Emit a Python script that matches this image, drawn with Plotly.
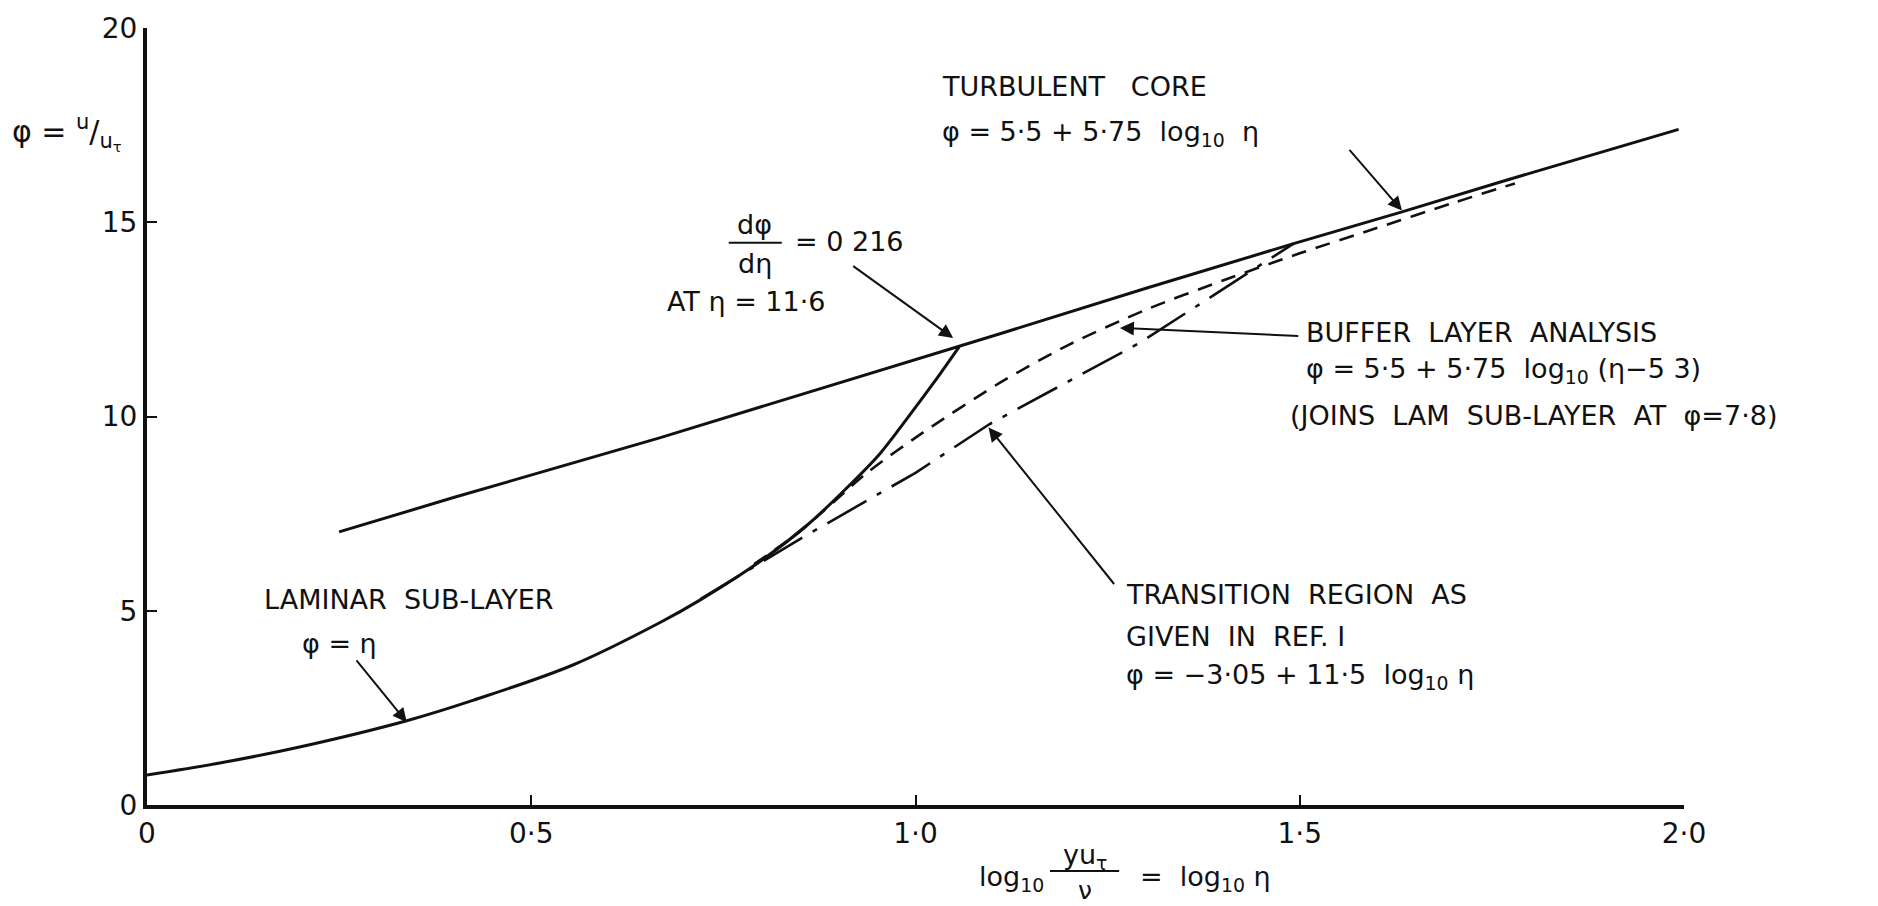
import plotly.graph_objects as go

# ---- data ----
turb_x = [0.25, 0.40, 0.667, 1.057, 1.11, 1.30, 1.492, 1.632, 1.76, 1.993]
turb_y = [7.03, 7.92, 9.45, 11.80, 12.13, 13.30, 14.45, 15.26, 16.03, 17.39]

lam_x = [0.0, 0.10, 0.20, 0.338, 0.425, 0.555, 0.667, 0.72, 0.80, 0.86, 0.91, 0.954, 0.988, 1.023, 1.057]
lam_y = [0.77, 1.10, 1.50, 2.17, 2.70, 3.61, 4.69, 5.28, 6.30, 7.22, 8.15, 9.05, 9.92, 10.85, 11.80]

buf_x = [0.79, 0.85, 0.937, 1.01, 1.11, 1.20, 1.30, 1.40, 1.50, 1.60, 1.70, 1.78]
buf_y = [6.20, 7.05, 8.55, 9.59, 10.87, 11.85, 12.75, 13.50, 14.20, 14.85, 15.50, 16.00]

trans_x = [0.72, 0.849, 1.0, 1.096, 1.292, 1.492]
trans_y = [5.30, 6.84, 8.55, 9.80, 11.90, 14.45]

x_ticks = [0, 0.5, 1.0, 1.5, 2.0]
x_ticklabels = ["0", "0·5", "1·0", "1·5", "2·0"]
y_ticks = [0, 5, 10, 15, 20]
y_ticklabels = ["0", "5", "10", "15", "20"]

FONT = "DejaVu Sans"
INK = "#111111"

fig = go.Figure()
fig.add_trace(go.Scatter(x=turb_x, y=turb_y, mode="lines",
                         line=dict(color=INK, width=3), hoverinfo="skip"))
fig.add_trace(go.Scatter(x=lam_x, y=lam_y, mode="lines", line_shape="spline",
                         line=dict(color=INK, width=3, smoothing=1.0), hoverinfo="skip"))
fig.add_trace(go.Scatter(x=buf_x, y=buf_y, mode="lines", line_shape="spline",
                         line=dict(color=INK, width=2.6, dash="15px,10px", smoothing=0.8),
                         hoverinfo="skip"))
fig.add_trace(go.Scatter(x=trans_x, y=trans_y, mode="lines",
                         line=dict(color=INK, width=2.6, dash="45px,12px,5px,12px"), hoverinfo="skip"))

ann = []
SZ = 27


def txt(x, y, s, size=SZ, xanchor="left", yref="y"):
    ann.append(dict(x=x, y=y, xref="x", yref=yref, text=s, showarrow=False,
                    xanchor=xanchor, yanchor="middle",
                    font=dict(family=FONT, size=size, color=INK)))


def arrow(tx, ty, hx, hy):
    ann.append(dict(x=hx, y=hy, ax=tx, ay=ty, xref="x", yref="y", axref="x", ayref="y",
                    text="", showarrow=True, arrowhead=2, arrowsize=1.4, arrowwidth=2,
                    arrowcolor=INK))


# Turbulent core
txt(1.032, 18.50, "TURBULENT   CORE")
txt(1.032, 17.29, "φ = 5·5 + 5·75  log<sub>10</sub>  η")
arrow(1.563, 16.9, 1.633, 15.3)

# dφ/dη
txt(0.791, 14.95, "dφ", xanchor="center")
txt(0.791, 13.95, "dη", xanchor="center")
txt(0.840, 14.50, "= 0 216")
txt(0.674, 12.95, "AT η = 11·6")
arrow(0.917, 13.90, 1.049, 12.02)

# Buffer layer
txt(1.506, 12.15, "BUFFER  LAYER  ANALYSIS")
txt(1.506, 11.18, "φ = 5·5 + 5·75  log<sub>10</sub> (η−5 3)")
txt(1.485, 10.03, "(JOINS  LAM  SUB-LAYER  AT  φ=7·8)")
arrow(1.50, 12.07, 1.266, 12.28)

# Transition region
txt(1.271, 5.42, "TRANSITION  REGION  AS")
txt(1.271, 4.35, "GIVEN  IN  REF. I")
txt(1.271, 3.32, "φ = −3·05 + 11·5  log<sub>10</sub> η")
arrow(1.26, 5.65, 1.095, 9.72)

# Laminar sub-layer
txt(0.150, 5.30, "LAMINAR  SUB-LAYER")
txt(0.199, 4.15, "φ = η")
arrow(0.271, 3.76, 0.338, 2.13)

# y-axis label
ann.append(dict(x=-0.052, y=17.3, xref="paper", yref="y", showarrow=False,
                text="φ = <sup>u</sup>/<sub>u<sub>τ</sub></sub>", xanchor="center", yanchor="middle",
                font=dict(family=FONT, size=30, color=INK)))

# x-axis label (paper y below the plot)
txt(1.08, -0.095, "log<sub>10</sub>", yref="paper")
txt(1.22, -0.066, "yu<sub>τ</sub>", xanchor="center", yref="paper")
txt(1.22, -0.110, "ν", size=25, xanchor="center", yref="paper")
txt(1.29, -0.095, "=  log<sub>10</sub> η", yref="paper")

shapes = [
    dict(type="line", xref="x", yref="y", x0=0.757, x1=0.826, y0=14.47, y1=14.47,
         line=dict(color=INK, width=2)),
    dict(type="line", xref="x", yref="paper", x0=1.175, x1=1.265, y0=-0.085, y1=-0.085,
         line=dict(color=INK, width=2)),
]

fig.update_layout(
    width=1878, height=906,
    margin=dict(l=147, r=194, t=25, b=101),
    paper_bgcolor="white", plot_bgcolor="white",
    showlegend=False,
    annotations=ann, shapes=shapes,
    font=dict(family=FONT, color=INK),
    xaxis=dict(range=[0, 2], tickvals=x_ticks, ticktext=x_ticklabels,
               showgrid=False, zeroline=False, showline=True, linecolor=INK, linewidth=4,
               ticks="inside", ticklen=10, tickwidth=2, tickcolor=INK,
               tickfont=dict(family=FONT, size=28, color=INK)),
    yaxis=dict(range=[0, 20], tickvals=y_ticks, ticktext=y_ticklabels,
               showgrid=False, zeroline=False, showline=True, linecolor=INK, linewidth=4,
               ticks="inside", ticklen=10, tickwidth=2, tickcolor=INK,
               tickfont=dict(family=FONT, size=28, color=INK)),
)

fig.write_html("out.html")
